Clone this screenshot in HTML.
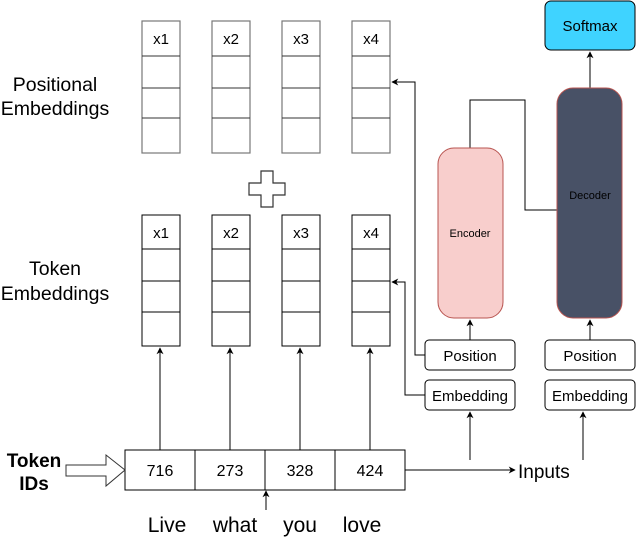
<!DOCTYPE html>
<html><head><style>body{margin:0;background:#fff}svg{display:block}text{font-family:"Liberation Sans",sans-serif}</style></head><body>
<svg width="636" height="541" viewBox="0 0 636 541" xmlns="http://www.w3.org/2000/svg">
<defs><marker id="a" viewBox="0 0 10 10" refX="9" refY="5" markerWidth="7" markerHeight="7" orient="auto"><path d="M0,0 L10,5 L0,10 L3,5z" fill="#000"/></marker></defs>
<g fill="#fff" stroke="#777" stroke-width="1.2">
<rect x="142" y="21" width="38" height="132"/><rect x="212" y="21" width="38" height="132"/><rect x="282" y="21" width="38" height="132"/><rect x="352" y="21" width="38" height="132"/>
</g>
<g stroke="#333" stroke-width="1">
<path d="M142 56H180M142 88H180M142 118H180M212 56H250M212 88H250M212 118H250M282 56H320M282 88H320M282 118H320M352 56H390M352 88H390M352 118H390"/>
</g>
<g fill="#fff" stroke="#000" stroke-width="1">
<rect x="142" y="215" width="38" height="131"/><rect x="212" y="215" width="38" height="131"/><rect x="282" y="215" width="38" height="131"/><rect x="352" y="215" width="38" height="131"/>
<path d="M142 249H180M142 281H180M142 312H180M212 249H250M212 281H250M212 312H250M282 249H320M282 281H320M282 312H320M352 249H390M352 281H390M352 312H390"/>
</g>
<g font-size="15" text-anchor="middle" fill="#000">
<text x="161" y="44">x1</text><text x="231" y="44">x2</text><text x="301" y="44">x3</text><text x="371" y="44">x4</text>
<text x="161" y="238">x1</text><text x="231" y="238">x2</text><text x="301" y="238">x3</text><text x="371" y="238">x4</text>
</g>
<g font-size="19.5" text-anchor="middle"><text x="55" y="91">Positional</text><text x="55" y="115">Embeddings</text><text x="55" y="275">Token</text><text x="55" y="300">Embeddings</text></g>
<path d="M261 171H273V183H285V195H273V207H261V195H249V183H261Z" fill="#fff" stroke="#333" stroke-width="1.2"/>
<g stroke="#000" stroke-width="1" fill="none">
<path d="M160 450V348" marker-end="url(#a)"/><path d="M230 450V348" marker-end="url(#a)"/><path d="M300 450V348" marker-end="url(#a)"/><path d="M370 450V348" marker-end="url(#a)"/>
<path d="M405 470H515" marker-end="url(#a)"/><path d="M266 510V491" marker-end="url(#a)"/>
<path d="M470 460V412" marker-end="url(#a)"/><path d="M583 460V412" marker-end="url(#a)"/>
<path d="M470 340V320" marker-end="url(#a)"/><path d="M590 340V320" marker-end="url(#a)"/>
<path d="M590 88V52" marker-end="url(#a)"/>
<path d="M470 148V100H525V210H557"/>
<path d="M425 355H415V82H392" marker-end="url(#a)"/>
<path d="M425 395H405V282H392" marker-end="url(#a)"/>
</g>
<rect x="125" y="450" width="280" height="40" fill="#fff" stroke="#000"/>
<path d="M195 450V490M265 450V490M335 450V490" stroke="#000"/>
<g font-size="16" text-anchor="middle"><text x="160" y="476">716</text><text x="230" y="476">273</text><text x="300" y="476">328</text><text x="370" y="476">424</text></g>
<path d="M66 465H106V455L125 470L106 486V476H66Z" fill="#fff" stroke="#333"/>
<g font-size="19" font-weight="bold" text-anchor="middle"><text x="34" y="467">Token</text><text x="34" y="490">IDs</text></g>
<g font-size="21" text-anchor="middle"><text x="167" y="532">Live</text><text x="235" y="532">what</text><text x="300" y="532">you</text><text x="362" y="532">love</text></g>
<text x="518" y="478" font-size="19">Inputs</text>
<rect x="438" y="148" width="65" height="170" rx="16" fill="#f8cecc" stroke="#b85450"/>
<text x="470" y="237" font-size="11" text-anchor="middle">Encoder</text>
<rect x="557" y="88" width="65" height="230" rx="16" fill="#485166" stroke="#b85450"/>
<text x="590" y="199" font-size="11" text-anchor="middle" fill="#000">Decoder</text>
<rect x="545" y="1" width="90" height="49" rx="6" fill="#3fd3ff" stroke="#000"/>
<text x="590" y="31" font-size="15" text-anchor="middle">Softmax</text>
<g fill="#fff" stroke="#000"><rect x="425" y="340" width="90" height="30" rx="4"/><rect x="545" y="340" width="90" height="30" rx="4"/><rect x="425" y="380" width="90" height="30" rx="4"/><rect x="545" y="380" width="90" height="30" rx="4"/></g>
<g font-size="15" text-anchor="middle"><text x="470" y="361">Position</text><text x="590" y="361">Position</text><text x="470" y="401">Embedding</text><text x="590" y="401">Embedding</text></g>
</svg>
</body></html>
